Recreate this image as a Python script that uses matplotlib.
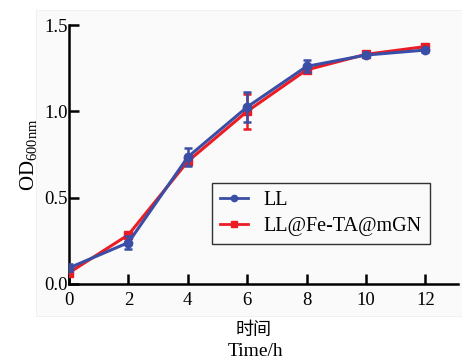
import matplotlib.pyplot as plt
import matplotlib.patches as patches
from matplotlib.lines import Line2D

# ===============================
# Datos
# ===============================
time_h = [0, 2, 4, 6, 8, 10, 12]

ll_od = [0.093, 0.24, 0.735, 1.025, 1.26, 1.326, 1.355]
ll_err = [0.02, 0.04, 0.05, 0.085, 0.035, 0.01, 0.01]

fe_od = [0.065, 0.285, 0.71, 1.0, 1.24, 1.33, 1.375]
fe_err = [0.015, 0.015, 0.02, 0.10, 0.015, 0.01, 0.01]

labels = ["LL", "LL@Fe-TA@mGN"]
BLUE = "#3a4ea6"
RED = "#ec1c24"

plt.rcParams["font.family"] = ["Liberation Serif", "Noto Sans CJK SC"]
plt.rcParams["mathtext.fontset"] = "custom"
plt.rcParams["mathtext.rm"] = "Liberation Serif"

# ===============================
# Figura
# ===============================
fig = plt.figure(figsize=(4.62, 3.63), dpi=100)
fig.patches.append(patches.Rectangle(
    (36 / 462, 1 - 316 / 363), 1 - 36 / 462, (316 - 10) / 363,
    transform=fig.transFigure, facecolor="#fafafa", edgecolor="#eeeeee",
    linewidth=0.6, zorder=-5))

ax = fig.add_axes([69 / 462, 1 - 284 / 363, (458 - 69) / 462, (284 - 25) / 363])
ax.patch.set_alpha(0)

ax.errorbar(time_h, fe_od, yerr=fe_err, color=RED, marker="s", markersize=5.5,
            linewidth=2.2, elinewidth=1.8, capsize=3, capthick=1.8, zorder=3)
ax.errorbar(time_h, ll_od, yerr=ll_err, color=BLUE, marker="o", markersize=6,
            linewidth=2.2, elinewidth=1.8, capsize=3, capthick=1.8, zorder=4)

ax.set_xlim(0, 13.1)
ax.set_ylim(0, 1.5)
ax.set_xticks(time_h)
ax.set_yticks([0, 0.5, 1.0, 1.5])
ax.set_yticklabels(["0.0", "0.5", "1.0", "1.5"])

for s in ["top", "right"]:
    ax.spines[s].set_visible(False)
for s in ["left", "bottom"]:
    ax.spines[s].set_linewidth(1.8)
ax.tick_params(direction="in", length=7, width=1.8, labelsize=13.5)
ax.tick_params(axis="y", pad=1)
ax.tick_params(axis="x", pad=6)

# leyenda sin barras de error
handles = [
    Line2D([], [], color=BLUE, marker="o", markersize=4.5, linewidth=2),
    Line2D([], [], color=RED, marker="s", markersize=4.5, linewidth=2),
]
leg = ax.legend(handles, labels, loc="upper left",
                bbox_to_anchor=((212 - 69) / 389, 1 - (183 - 25) / 259),
                fontsize=14.5, frameon=True, fancybox=False, edgecolor="black",
                handlelength=1.4, borderpad=0.4, labelspacing=0.35,
                handletextpad=0.75, borderaxespad=0)
leg.get_frame().set_linewidth(1.0)
leg.get_frame().set_facecolor("none")

ax.set_ylabel(r"OD$_{\mathregular{600nm}}$", fontsize=15, labelpad=3)
fig.text(254 / 462, 1 - 330 / 363, "时间", ha="center", va="center",
         fontsize=13, family=["Noto Sans CJK SC"])
fig.text(255 / 462, 1 - 352 / 363, "Time/h", ha="center", va="center",
         fontsize=14)

fig.savefig("out.png", dpi=100)
